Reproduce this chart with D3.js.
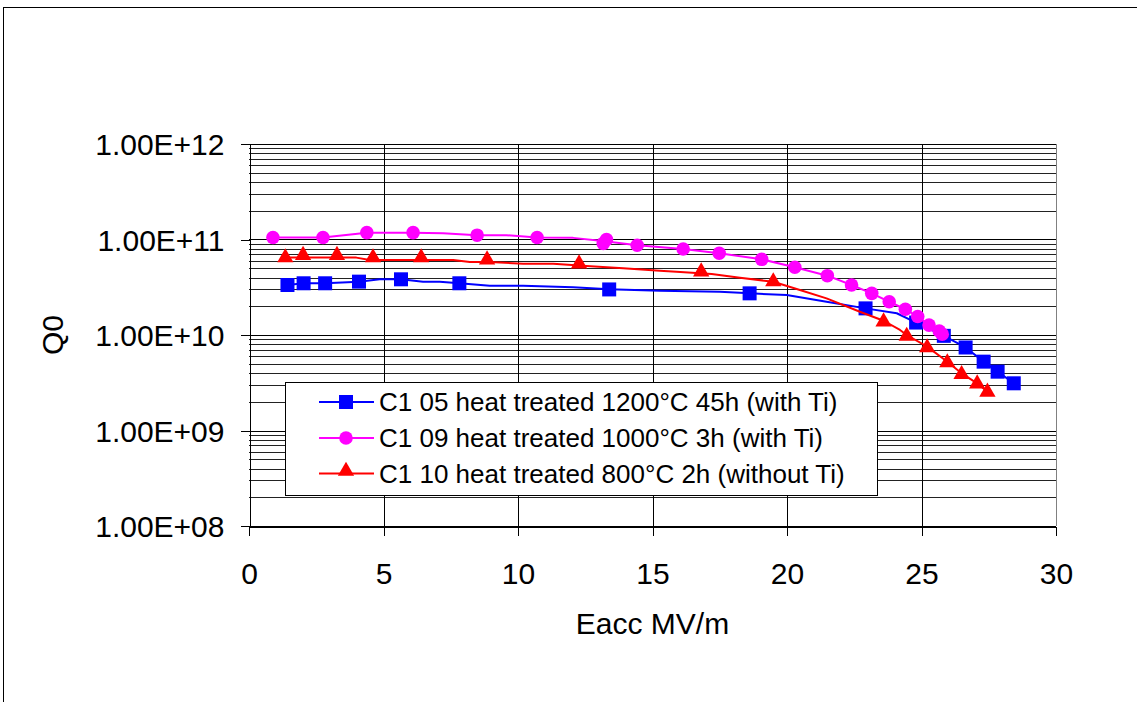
<!DOCTYPE html>
<html>
<head>
<meta charset="utf-8">
<title>Q0 vs Eacc</title>
<script src="https://cdn.jsdelivr.net/npm/d3@7"></script>
<style>
  html, body { margin: 0; padding: 0; background: #fff; }
  #chart { width: 1137px; height: 702px; }
  text { font-family: "Liberation Sans", Arial, sans-serif; fill: #000; }
</style>
</head>
<body>
<div id="chart"></div>
<script>
// ---- 1) DATA (read off the reference picture) ----
// each entry: [Eacc MV/m, Q0]
const xTicks = [0, 5, 10, 15, 20, 25, 30];
const yTicks = [1e8, 1e9, 1e10, 1e11, 1e12];
const yTickLabels = ["1.00E+08", "1.00E+09", "1.00E+10", "1.00E+11", "1.00E+12"];

const seriesNames = [
  "C1 05 heat treated 1200°C 45h (with Ti)",
  "C1 09 heat treated 1000°C 3h (with Ti)",
  "C1 10 heat treated 800°C 2h (without Ti)"
];

// C1 05 – line has more points than markers
const c105Line = [
  [1.43, 3.34e10], [2.03, 3.48e10], [2.83, 3.48e10], [4.09, 3.61e10], [4.86, 3.83e10],
  [5.65, 3.83e10], [6.47, 3.61e10], [7.09, 3.61e10], [7.82, 3.48e10], [8.95, 3.28e10],
  [10.19, 3.28e10], [12.05, 3.16e10], [13.39, 3.01e10], [15.27, 2.91e10], [17.50, 2.84e10],
  [18.61, 2.73e10], [19.99, 2.62e10], [21.47, 2.23e10], [22.92, 1.90e10], [24.08, 1.69e10],
  [24.80, 1.35e10], [25.83, 9.8e9], [26.64, 7.4e9], [27.31, 5.26e9], [27.83, 4.13e9],
  [28.43, 3.12e9]
];
const c105Marks = [
  [1.43, 3.34e10], [2.03, 3.48e10], [2.83, 3.48e10], [4.09, 3.62e10], [5.65, 3.83e10],
  [7.82, 3.48e10], [13.39, 3.0e10], [18.61, 2.73e10], [22.92, 1.90e10], [24.80, 1.35e10],
  [25.83, 9.8e9], [26.64, 7.4e9], [27.31, 5.26e9], [27.83, 4.13e9], [28.43, 3.12e9]
];

// C1 09
const c109Line = [
  [0.89, 1.05e11], [2.75, 1.05e11], [4.38, 1.18e11], [6.10, 1.18e11], [7.21, 1.16e11],
  [8.48, 1.11e11], [9.57, 1.11e11], [10.71, 1.05e11], [12.05, 1.04e11], [13.23, 9.6e10],
  [14.43, 8.7e10], [16.14, 7.96e10], [17.48, 7.17e10], [19.06, 6.2e10], [20.29, 5.12e10],
  [21.50, 4.18e10], [22.40, 3.34e10], [23.15, 2.73e10], [23.80, 2.23e10], [24.40, 1.86e10],
  [24.86, 1.56e10], [25.28, 1.27e10], [25.66, 1.10e10], [25.77, 1.02e10]
];
const c109Marks = [
  [0.89, 1.05e11], [2.75, 1.05e11], [4.38, 1.18e11], [6.10, 1.18e11], [8.48, 1.11e11],
  [10.71, 1.05e11], [13.29, 1.0e11], [13.17, 9.1e10], [14.43, 8.7e10], [16.14, 7.96e10],
  [17.48, 7.17e10], [19.06, 6.2e10], [20.29, 5.12e10], [21.50, 4.18e10], [22.40, 3.34e10],
  [23.15, 2.73e10], [23.80, 2.23e10], [24.40, 1.86e10], [24.86, 1.56e10], [25.28, 1.27e10],
  [25.66, 1.10e10], [25.77, 1.02e10]
];

// C1 10
const c110Line = [
  [1.35, 6.1e10], [1.51, 6.46e10], [3.99, 6.46e10], [4.49, 6.1e10], [7.59, 6.1e10],
  [8.21, 5.8e10], [8.95, 5.8e10], [10.19, 5.58e10], [11.31, 5.58e10], [12.55, 5.27e10],
  [13.91, 4.99e10], [15.27, 4.71e10], [15.89, 4.60e10], [17.20, 4.36e10], [18.25, 3.98e10],
  [19.49, 3.61e10], [20.48, 2.96e10], [21.47, 2.42e10], [22.71, 1.75e10], [23.59, 1.41e10],
  [24.20, 1.13e10], [24.45, 1.0e10], [25.21, 7.55e9], [25.96, 5.25e9], [26.49, 3.97e9],
  [27.07, 3.12e9], [27.45, 2.55e9]
];
const c110Marks = [
  [1.35, 6.1e10], [2.01, 6.46e10], [3.27, 6.46e10], [4.61, 6.1e10], [6.40, 6.1e10],
  [8.85, 5.8e10], [12.27, 5.27e10], [16.81, 4.35e10], [19.49, 3.42e10], [23.59, 1.30e10],
  [24.45, 9.2e9], [25.21, 6.97e9], [25.96, 4.85e9], [26.49, 3.66e9], [27.07, 2.92e9],
  [27.45, 2.39e9]
];

// ---- 2) LAYOUT / STYLE ----
const W = 1137, H = 702;
const plot = { left: 249, right: 1056, top: 144, bottom: 526 };

const series = [
  { name: seriesNames[0], line: c105Line, marks: c105Marks, color: "#0000ff", shape: d3.symbolSquare, size: 196 },
  { name: seriesNames[1], line: c109Line, marks: c109Marks, color: "#ff00ff", shape: d3.symbolCircle, size: 145 },
  { name: seriesNames[2], line: c110Line, marks: c110Marks, color: "#ff0000", shape: d3.symbolTriangle, size: 115 }
];

// d3 triangles sit on their centroid; shift so the box centre hits the point
function symbolOffset(s) {
  if (s.shape !== d3.symbolTriangle) return 0;
  const yy = Math.sqrt(s.size / (Math.sqrt(3) * 3));
  return -yy / 2;
}

// ---- 3) DRAW ----
function drawChart() {
  const svg = d3.select('#chart').append('svg')
    .attr('width', W)
    .attr('height', H);

  // chart frame (Excel chart area border, cut off on right / bottom)
  svg.append('rect')
    .attr('x', 3.5).attr('y', 7.5)
    .attr('width', W + 10).attr('height', H + 10)
    .attr('fill', '#fff')
    .attr('stroke', '#000');

  const x = d3.scaleLinear().domain([0, 30]).range([plot.left, plot.right]);
  const y = d3.scaleLog().domain([1e8, 1e12]).range([plot.bottom, plot.top]);

  // horizontal gridlines: 1..9 per decade
  const gridVals = [];
  for (let e = 8; e < 12; e++) {
    for (let m = 1; m <= 9; m++) gridVals.push(m * Math.pow(10, e));
  }
  gridVals.push(1e12);

  const grid = svg.append('g')
    .attr('stroke', '#000')
    .attr('stroke-width', 1)
    .attr('shape-rendering', 'crispEdges');

  grid.selectAll('line.h')
    .data(gridVals)
    .join('line')
    .attr('class', 'h')
    .attr('x1', plot.left).attr('x2', plot.right)
    .attr('y1', d => Math.round(y(d)) + 0.5)
    .attr('y2', d => Math.round(y(d)) + 0.5)
    .attr('stroke', d => (Math.log10(d) % 1 === 0) ? '#000' : '#222');

  grid.selectAll('line.v')
    .data(xTicks.slice(1, -1))
    .join('line')
    .attr('class', 'v')
    .attr('x1', d => Math.round(x(d)) + 0.5).attr('x2', d => Math.round(x(d)) + 0.5)
    .attr('y1', plot.top).attr('y2', plot.bottom);

  // plot area right border (gray)
  svg.append('line')
    .attr('x1', plot.right + 0.5).attr('x2', plot.right + 0.5)
    .attr('y1', plot.top).attr('y2', plot.bottom)
    .attr('stroke', '#808080')
    .attr('shape-rendering', 'crispEdges');

  // Y axis
  const yAxis = d3.axisLeft(y)
    .tickValues(yTicks)
    .tickFormat((d, i) => yTickLabels[i])
    .tickSize(9)
    .tickPadding(16);
  const gy = svg.append('g')
    .attr('transform', `translate(${plot.left + 0.5},0)`)
    .call(yAxis);
  gy.select('.domain').attr('stroke', '#000').attr('shape-rendering', 'crispEdges');
  gy.selectAll('.tick line').attr('stroke', '#000').attr('shape-rendering', 'crispEdges');
  gy.selectAll('.tick text')
    .attr('font-size', 30)
    .attr('font-family', '"Liberation Sans", Arial, sans-serif')
    .attr('dy', '0.36em');

  // X axis
  const xAxis = d3.axisBottom(x)
    .tickValues(xTicks)
    .tickFormat(d3.format('d'))
    .tickSize(9)
    .tickPadding(27);
  const gx = svg.append('g')
    .attr('transform', `translate(0,${plot.bottom + 0.5})`)
    .call(xAxis);
  gx.select('.domain').attr('stroke', '#000').attr('shape-rendering', 'crispEdges');
  gx.selectAll('.tick line').attr('stroke', '#000').attr('shape-rendering', 'crispEdges');
  gx.selectAll('.tick text')
    .attr('font-size', 30)
    .attr('font-family', '"Liberation Sans", Arial, sans-serif');

  // axis titles
  svg.append('text')
    .attr('x', (plot.left + plot.right) / 2)
    .attr('y', 634)
    .attr('text-anchor', 'middle')
    .attr('font-size', 30)
    .text('Eacc MV/m');

  svg.append('text')
    .attr('transform', `translate(63,${(plot.top + plot.bottom) / 2}) rotate(-90)`)
    .attr('text-anchor', 'middle')
    .attr('font-size', 30)
    .text('Q0');

  // series
  const line = d3.line()
    .x(d => x(d[0]))
    .y(d => y(d[1]));

  series.forEach(s => {
    const g = svg.append('g');
    g.append('path')
      .datum(s.line)
      .attr('fill', 'none')
      .attr('stroke', s.color)
      .attr('stroke-width', 2)
      .attr('stroke-linejoin', 'round')
      .attr('d', line);

    const off = symbolOffset(s);
    g.selectAll('path.m')
      .data(s.marks)
      .join('path')
      .attr('class', 'm')
      .attr('transform', d => `translate(${x(d[0])},${y(d[1]) + off})`)
      .attr('fill', s.color)
      .attr('d', d3.symbol().type(s.shape).size(s.size));
  });

  // legend
  const leg = { x: 285.5, y: 382.5, w: 592, h: 113 };
  const lg = svg.append('g');
  lg.append('rect')
    .attr('x', leg.x).attr('y', leg.y)
    .attr('width', leg.w).attr('height', leg.h)
    .attr('fill', '#fff')
    .attr('stroke', '#000')
    .attr('shape-rendering', 'crispEdges');

  const rowY = [402, 438, 473.5];
  series.forEach((s, i) => {
    const row = lg.append('g').attr('transform', `translate(0,${rowY[i]})`);
    row.append('line')
      .attr('x1', 319).attr('x2', 374)
      .attr('y1', 0).attr('y2', 0)
      .attr('stroke', s.color)
      .attr('stroke-width', 2);
    row.append('path')
      .attr('transform', `translate(346,${symbolOffset(s)})`)
      .attr('fill', s.color)
      .attr('d', d3.symbol().type(s.shape).size(s.size));
    row.append('text')
      .attr('x', 379)
      .attr('y', 0)
      .attr('dy', '0.35em')
      .attr('font-size', 26)
      .text(s.name);
  });
}

// ---- 4) BOOT ----
function boot() {
  try {
    drawChart();
  } catch (err) {
    console.error(err);
  }
}

document.addEventListener('DOMContentLoaded', boot);
</script>
</body>
</html>
